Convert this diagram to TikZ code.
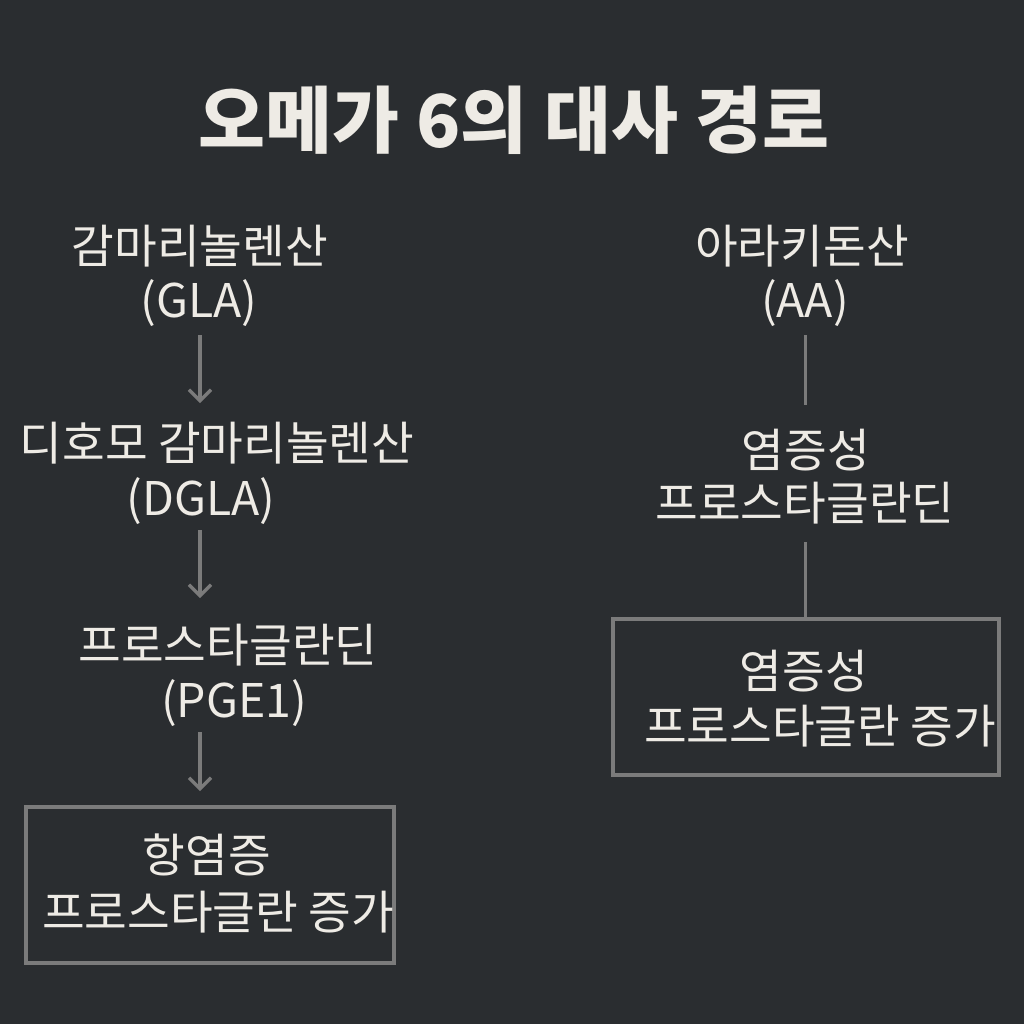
\documentclass[tikz,border=0pt]{standalone}
\usepackage{fontspec}
\setmainfont{Noto Sans CJK KR}
\usetikzlibrary{arrows.meta}
\definecolor{bg}{HTML}{2A2D30}
\definecolor{fg}{HTML}{EEEBE5}
\definecolor{ln}{HTML}{7B7B7B}
\tikzset{
  lbl/.style={anchor=base, inner sep=0pt, text=fg, font=\fontsize{23.2}{28}\selectfont},
  ttl/.style={anchor=base, inner sep=0pt, text=fg, font=\fontsize{36.4}{44}\selectfont\bfseries},
  arr/.style={draw=ln, line width=1.75pt, -{Straight Barb[length=5.5pt,width=11pt,line width=1.6pt]}},
  conn/.style={draw=ln, line width=1.75pt},
  boxn/.style={draw=ln, line width=2pt, inner sep=0pt}
}
\begin{document}
\begin{tikzpicture}[x=0.5pt,y=-0.5pt]
\fill[bg] (0,0) rectangle (1024,1024);
\useasboundingbox (0,0) rectangle (1024,1024);
\node[ttl] (title) at (514,147) {오메가 6의 대사 경로};
% left column
\node[lbl] (gla1) at (200,263) {감마리놀렌산};
\node[lbl] (gla2) at (199,317) {(GLA)};
\node[lbl] (dgla1) at (217,460) {디호모 감마리놀렌산};
\node[lbl] (dgla2) at (201,515) {(DGLA)};
\node[lbl] (pge1) at (228,662) {프로스타글란딘};
\node[lbl] (pge2) at (234,717) {(PGE1)};
\node[boxn, minimum width=184pt, minimum height=78pt] (boxL) at (209.5,885) {};
\node[lbl] (bl1) at (207,872) {항염증};
\node[lbl] (bl2) at (218,929) {프로스타글란 증가};
% right column
\node[lbl] (aa1) at (802,263) {아라키돈산};
\node[lbl] (aa2) at (805,317) {(AA)};
\node[lbl] (ips1) at (806,467) {염증성};
\node[lbl] (ips2) at (805,520) {프로스타글란딘};
\node[boxn, minimum width=193pt, minimum height=78pt] (boxR) at (805.5,696.5) {};
\node[lbl] (br1) at (804,688) {염증성};
\node[lbl] (br2) at (820,743) {프로스타글란 증가};
% connectors
\coordinate (a1s) at (gla1.center |- 0,335);
\coordinate (a1e) at (gla1.center |- 0,403);
\draw[arr] (a1s) -- (a1e);
\coordinate (a2s) at (gla1.center |- 0,530);
\coordinate (a2e) at (gla1.center |- 0,598);
\draw[arr] (a2s) -- (a2e);
\coordinate (a3s) at (gla1.center |- 0,732);
\coordinate (a3e) at (gla1.center |- 0,791);
\draw[arr] (a3s) -- (a3e);
\coordinate (r1s) at (boxR.north |- 0,335);
\coordinate (r1e) at (boxR.north |- 0,405);
\draw[conn] (r1s) -- (r1e);
\coordinate (r2s) at (boxR.north |- 0,542);
\draw[conn] (r2s) -- (boxR.north);
\end{tikzpicture}
\end{document}
